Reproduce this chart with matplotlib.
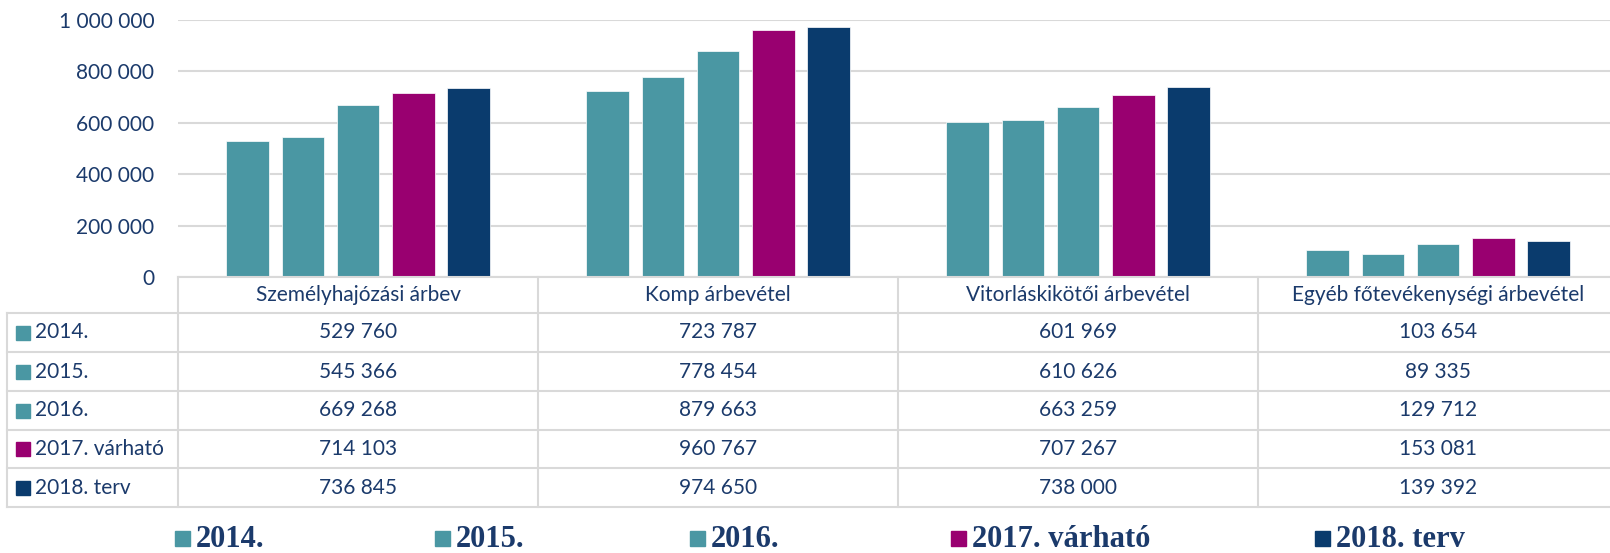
import numpy as np
import matplotlib.pyplot as plt
from matplotlib.patches import Rectangle

categories = ['Személyhajózási árbev', 'Komp árbevétel',
              'Vitorláskikötői árbevétel', 'Egyéb főtevékenységi árbevétel']
series = ['2014.', '2015.', '2016.', '2017. várható', '2018. terv']
v2014 = [529760, 723787, 601969, 103654]
v2015 = [545366, 778454, 610626, 89335]
v2016 = [669268, 879663, 663259, 129712]
v2017 = [714103, 960767, 707267, 153081]
v2018 = [736845, 974650, 738000, 139392]
values = [v2014, v2015, v2016, v2017, v2018]
colors = ['#4A97A3', '#4A97A3', '#4A97A3', '#990070', '#0A3B6D']
yticks = [0, 200000, 400000, 600000, 800000, 1000000]

txt = '#1B3A6B'
grid_c = '#D9D9D9'
sans = ['Lato', 'DejaVu Sans']
serif = ['Liberation Serif', 'DejaVu Serif']


def fmt(v):
    return f'{v:,.0f}'.replace(',', ' ')


W, H = 1610, 553
fig = plt.figure(figsize=(16.1, 5.53), dpi=100)


def box(x0, y0, x1, y1):
    return [x0 / W, 1 - y1 / H, (x1 - x0) / W, (y1 - y0) / H]


# bars
ax = fig.add_axes(box(178, 20, 1618, 277))
x = np.arange(len(categories))
for k, (vals, c) in enumerate(zip(values, colors)):
    ax.bar(x + (k - 2) * 0.153, vals, width=0.119, color=c,
           edgecolor='white', linewidth=0.5, zorder=3)
ax.set_xlim(-0.5, 3.5)
ax.set_ylim(0, 1000000)
ax.set_yticks(yticks)
ax.set_yticklabels([fmt(t) for t in yticks], family=sans)
ax.set_xticks([])
ax.grid(axis='y', color=grid_c, lw=1.5)
ax.set_axisbelow(True)
for s in ax.spines.values():
    s.set_visible(False)
ax.tick_params(axis='y', length=0, pad=17, labelsize=15, labelcolor=txt)

# data table drawn under the axes
tab = fig.add_axes([0, 0, 1, 1])
tab.set_xlim(0, W)
tab.set_ylim(H, 0)
tab.axis('off')

row_y = [277, 313, 352, 391, 430, 468, 507]
col_x = [7, 178, 538, 898, 1258, 1618]

tab.plot([178, W], [277, 277], color=grid_c, lw=1.5)
for y in row_y[1:]:
    tab.plot([7, W], [y, y], color=grid_c, lw=1.5)
tab.plot([7, 7], [313, row_y[-1]], color=grid_c, lw=1.5)
for cx in col_x[1:-1]:
    tab.plot([cx, cx], [277, row_y[-1]], color=grid_c, lw=1.5)

for i, cat in enumerate(categories):
    cx = (col_x[i + 1] + col_x[i + 2]) / 2
    tab.text(cx, (row_y[0] + row_y[1]) / 2, cat, ha='center', va='center',
             fontsize=15, color=txt, family=sans)
    for k, vals in enumerate(values):
        yc = (row_y[k + 1] + row_y[k + 2]) / 2
        tab.text(cx, yc, fmt(vals[i]), ha='center', va='center',
                 fontsize=15, color=txt, family=sans)

for k, (name, c) in enumerate(zip(series, colors)):
    yc = (row_y[k + 1] + row_y[k + 2]) / 2
    tab.add_patch(Rectangle((16, yc - 7), 14, 14, color=c))
    tab.text(35, yc, name, ha='left', va='center', fontsize=15,
             color=txt, family=sans)

# legend
leg_x = [175, 435, 690, 951, 1315]
for lx, name, c in zip(leg_x, series, colors):
    tab.add_patch(Rectangle((lx, 531), 15, 15, color=c))
    tab.text(lx + 21, 547, name, ha='left', va='baseline', fontsize=22,
             fontweight='bold', color=txt, family=serif)

fig.savefig('out.png', dpi=100)
